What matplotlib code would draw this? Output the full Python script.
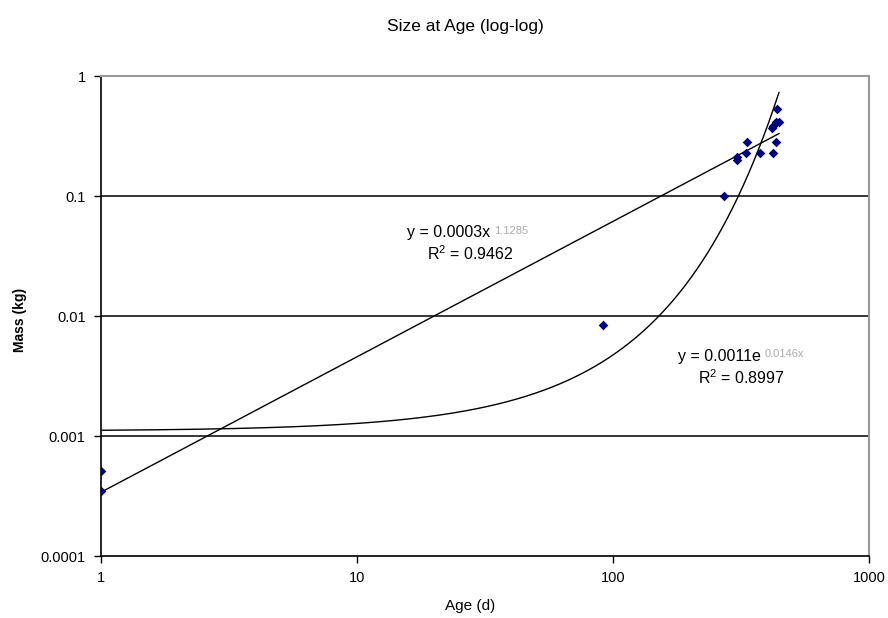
import numpy as np
import matplotlib
matplotlib.use("Agg")
import matplotlib.pyplot as plt
from matplotlib.ticker import FixedLocator, FixedFormatter, NullLocator

plt.rcParams['font.family'] = ['Liberation Sans', 'DejaVu Sans']

# Data
ages = [1, 1, 91, 271, 305, 305, 330, 334, 375, 418, 422, 422, 433, 433, 437, 445]
mass = [0.00051, 0.00035, 0.0084, 0.10, 0.21, 0.20, 0.23, 0.28, 0.23, 0.37, 0.38,
        0.23, 0.41, 0.28, 0.53, 0.41]

# Trendline parameters
power_a, power_b = 0.00034, 1.1285
exp_a, exp_b = 0.0011, 0.0146
power_label = "y = 0.0003x"
power_sup = "1.1285"
power_r2 = "0.9462"
exp_label = "y = 0.0011e"
exp_sup = "0.0146x"
exp_r2 = "0.8997"

x_ticks = [1, 10, 100, 1000]
x_ticklabels = ["1", "10", "100", "1000"]
y_ticks = [0.0001, 0.001, 0.01, 0.1, 1]
y_ticklabels = ["0.0001", "0.001", "0.01", "0.1", "1"]

W, H = 888, 618
fig = plt.figure(figsize=(W / 100, H / 100), dpi=100)
ax = fig.add_axes([101 / W, 1 - 556 / H, (869 - 101) / W, (556 - 76) / H])

ax.set_xscale('log')
ax.set_yscale('log')
ax.set_xlim(1, 1000)
ax.set_ylim(0.0001, 1)

# gridlines
for yv in y_ticks[1:-1]:
    ax.axhline(yv, color='black', lw=1.1, zorder=1)

# trendlines
xs = np.logspace(np.log10(min(ages)), np.log10(max(ages)), 400)
ax.plot(xs, power_a * xs ** power_b, color='black', lw=1.0, zorder=2)
ax.plot(xs, exp_a * np.exp(exp_b * xs), color='black', lw=1.0, zorder=2)

ax.scatter(ages, mass, marker='D', s=24, color='#000080', zorder=3, linewidths=0)

# spines
for s in ['top', 'right']:
    ax.spines[s].set_color('#999999')
    ax.spines[s].set_linewidth(1.5)
for s in ['left', 'bottom']:
    ax.spines[s].set_color('black')
    ax.spines[s].set_linewidth(1.2)

ax.xaxis.set_major_locator(FixedLocator(x_ticks))
ax.xaxis.set_major_formatter(FixedFormatter(x_ticklabels))
ax.xaxis.set_minor_locator(NullLocator())
ax.yaxis.set_major_locator(FixedLocator(y_ticks))
ax.yaxis.set_major_formatter(FixedFormatter(y_ticklabels))
ax.yaxis.set_minor_locator(NullLocator())
ax.tick_params(axis='both', direction='out', length=5, width=1, labelsize=10.5, pad=6)

# equations
t1 = fig.text(407 / W, 1 - 233 / H, power_label, fontsize=11.5, va='center', ha='left')
ax.annotate(power_sup, xy=(1, 1), xycoords=t1, xytext=(3, -4), textcoords='offset points',
            fontsize=8, va='center', ha='left', color='#aaaaaa')
fig.text(427 / W, 1 - 254 / H, "R$\\mathregular{^2}$ = " + power_r2, fontsize=11.5,
         va='center', ha='left')

t2 = fig.text(678 / W, 1 - 356 / H, exp_label, fontsize=11.5, va='center', ha='left')
ax.annotate(exp_sup, xy=(1, 1), xycoords=t2, xytext=(3, -4), textcoords='offset points',
            fontsize=8, va='center', ha='left', color='#aaaaaa')
fig.text(698 / W, 1 - 378 / H, "R$\\mathregular{^2}$ = " + exp_r2, fontsize=11.5,
         va='center', ha='left')

fig.text(465 / W, 1 - 27 / H, "Size at Age (log-log)", fontsize=12.5, ha='center', va='center')
fig.text(470 / W, 1 - 606 / H, "Age (d)", fontsize=11, ha='center', va='center')
fig.text(20 / W, 1 - 320 / H, "Mass (kg)", fontsize=10, ha='center', va='center',
         rotation=90, fontweight='bold')

fig.savefig("out.png", dpi=100)
